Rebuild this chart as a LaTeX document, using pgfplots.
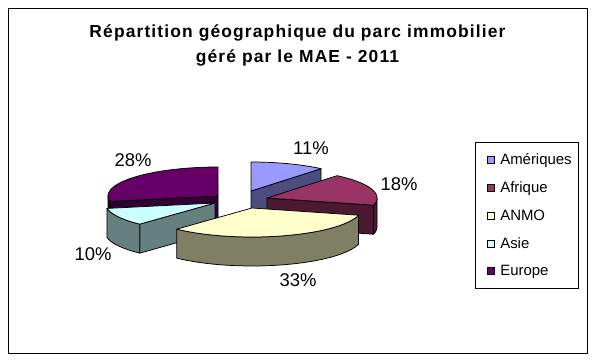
\documentclass[border=0pt]{standalone}
\usepackage{pgfplots}
\pgfplotsset{compat=1.18}
\usepackage{fontspec}
\setmainfont{Liberation Sans}
\newfontfamily\titlefont[LetterSpace=6.5]{Liberation Sans}

\definecolor{tAm}{HTML}{9999FF}\definecolor{sAm}{HTML}{4C4C7F}
\definecolor{tAf}{HTML}{993366}\definecolor{sAf}{HTML}{4C1933}
\definecolor{tAN}{HTML}{FFFFCC}\definecolor{sAN}{HTML}{7F7F66}
\definecolor{tAs}{HTML}{CCFFFF}\definecolor{sAs}{HTML}{667F7F}
\definecolor{tEu}{HTML}{660066}\definecolor{sEu}{HTML}{330033}

% shares (%)
\def\pAm{11}\def\pAf{18}\def\pAN{33}\def\pAs{10}\def\pEu{28}
\pgfmathsetmacro\aA{0}
\pgfmathsetmacro\aB{\aA+3.6*\pAm}
\pgfmathsetmacro\aC{\aB+3.6*\pAf}
\pgfmathsetmacro\aD{\aC+3.6*\pAN}
\pgfmathsetmacro\aE{\aD+3.6*\pAs}
\pgfmathsetmacro\aF{\aE+3.6*\pEu}

\newcommand{\RX}{110}\newcommand{\RY}{29}\newcommand{\DP}{29}
\pgfplotsset{sl/.style={forget plot, draw=black, line width=0.75bp, line join=round}}

% top face: from angle #1 to #2, apex (#3,#4), colour #5
\newcommand{\topface}[5]{%
 \addplot[sl, fill=#5, domain=#1:#2, samples=40, variable=\t]
 ({#3+\RX*sin(\t)},{#4-\RY*cos(\t)}) -- (axis cs:#3,#4) -- cycle;}
% outer side strip
\newcommand{\strip}[5]{%
 \addplot[sl, fill=#5, domain=0:41, samples=42, variable=\t]
 ({#3+\RX*sin(\t<20.5 ? #1+\t/20*(#2-#1) : #2-(\t-21)/20*(#2-#1))},
  {#4-\RY*cos(\t<20.5 ? #1+\t/20*(#2-#1) : #2-(\t-21)/20*(#2-#1))+(\t>20.5)*\DP}) -- cycle;}
% radial wall at angle #1, apex (#2,#3), colour #4
\newcommand{\wall}[4]{%
 \pgfmathsetmacro\wx{#2+\RX*sin(#1)}\pgfmathsetmacro\wy{#3-\RY*cos(#1)}%
 \pgfmathsetmacro\wyb{\wy+\DP}\pgfmathsetmacro\ayb{#3+\DP}%
 \edef\tmp{\noexpand\addplot[sl, fill=#4] coordinates {(#2,#3) (\wx,\wy) (\wx,\wyb) (#2,\ayb)} -- cycle;}\tmp}

\begin{document}
\begin{tikzpicture}
\begin{axis}[
  scale only axis, width=595bp, height=360bp,
  xmin=0, xmax=595, ymin=0, ymax=360, y dir=reverse,
  hide axis, clip=false,
  legend cell align=left,
  legend image code/.code={\path (0bp,0bp); \draw[#1, draw=black, line width=0.6bp] (6bp,-3.5bp) rectangle (13bp,3.5bp);},
  legend style={at={(0.7983,0.6056)}, anchor=north west, draw=black, line width=1bp,
    font=\fontsize{15}{18}\selectfont, row sep=11.7bp, column sep=4bp, inner xsep=5bp, inner ysep=9bp},
]
% frame
\draw[black, line width=1bp] (axis cs:8,8) rectangle (axis cs:587,353);

% Europe (back left)
\wall{\aE}{218}{196}{sEu}
\strip{\aE}{270}{218}{196}{sEu}
\topface{\aE}{\aF}{218}{196}{tEu}
% Ameriques (back right)
\wall{\aB}{251}{191}{sAm}
\topface{\aA}{\aB}{251}{191}{tAm}
% Afrique
\wall{\aC}{267}{198}{sAf}
\strip{90}{\aC}{267}{198}{sAf}
\topface{\aB}{\aC}{267}{198}{tAf}
% Asie
\wall{\aD}{215}{203}{sAs}
\strip{\aD}{\aE}{215}{203}{sAs}
\topface{\aD}{\aE}{215}{203}{tAs}
% ANMO (front)
\strip{\aC}{\aD}{252}{208}{sAN}
\topface{\aC}{\aD}{252}{208}{tAN}

% percentage labels
\begin{scope}[every node/.style={font=\fontsize{18.5}{22}\selectfont}]
\node at (axis cs:311,148) {\pAm\%};
\node at (axis cs:399,184) {\pAf\%};
\node at (axis cs:298,280) {\pAN\%};
\node at (axis cs:93,254) {\pAs\%};
\node at (axis cs:133,160) {\pEu\%};
\end{scope}

% title
\node[anchor=base, font=\titlefont\bfseries\fontsize{17.5}{21}\selectfont] at (axis cs:297.5,37) {Répartition géographique du parc immobilier};
\node[anchor=base, font=\titlefont\bfseries\fontsize{17.5}{21}\selectfont] at (axis cs:297.5,62) {géré par le MAE - 2011};

\addlegendimage{fill=tAm}
\addlegendimage{fill=tAf}
\addlegendimage{fill=tAN}
\addlegendimage{fill=tAs}
\addlegendimage{fill=tEu}
\legend{Amériques, Afrique, ANMO, Asie, Europe}
\end{axis}
\pgfresetboundingbox
\useasboundingbox (current axis.south west) rectangle (current axis.north east);
\end{tikzpicture}
\end{document}
